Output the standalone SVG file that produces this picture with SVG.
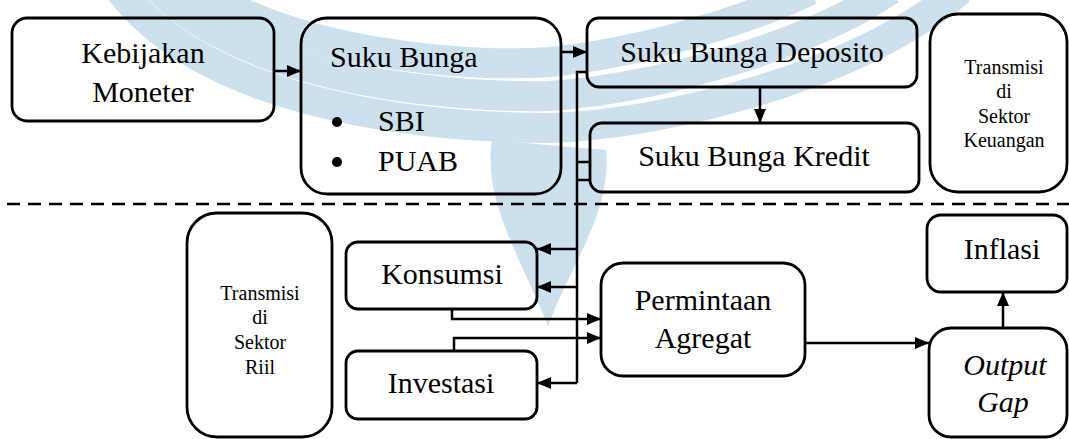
<svg xmlns="http://www.w3.org/2000/svg" width="1069" height="439" viewBox="0 0 1069 439">
<style>
.box{fill:none;stroke:#000;stroke-width:2.8}
.t{font-size:30px;fill:#000}
.s{font-size:20px;fill:#000;text-anchor:middle}
.c{text-anchor:middle}
.i{font-style:italic}
.ln{fill:none;stroke:#000;stroke-width:2.5}
.wm{fill:none;stroke:#cde0ee;stroke-width:30}
</style>
<defs>
<marker id="ah" viewBox="0 0 14 12" refX="14" refY="6" markerWidth="14" markerHeight="12" markerUnits="userSpaceOnUse" orient="auto">
<path d="M0,0 L14,6 L0,12 Z" fill="#000"/>
</marker>
</defs>
<rect width="1069" height="439" fill="#fff"/>
<g id="watermark">
<path class="wm" d="M200,-10 C300,55 470,68 550,62 C650,52 760,15 810,-10"/>
<path class="wm" d="M160,-10 C255,85 465,98 550,96 C660,88 810,45 890,-10"/>
<path class="wm" d="M120,-10 C215,115 455,128 550,128 C670,124 860,75 960,-10"/>
<path d="M492,140 C482,200 522,260 548,326 C572,262 612,212 606,150 Z" fill="#cde0ee"/>
</g>
<g id="separator">
<path d="M7,204 H1069" stroke="#000" stroke-width="2.5" stroke-dasharray="13 8"/>
</g>
<g id="connectors">
<path class="ln" d="M274,71 H301" marker-end="url(#ah)"/>
<path class="ln" d="M561,52 H587" marker-end="url(#ah)"/>
<path class="ln" d="M760,87 V123" marker-end="url(#ah)"/>
<path class="ln" d="M587,72 H577 V383"/>
<path class="ln" d="M577,162 H590 M577,180 H590"/>
<path class="ln" d="M577,249 H537" marker-end="url(#ah)"/>
<path class="ln" d="M577,287 H537" marker-end="url(#ah)"/>
<path class="ln" d="M577,383 H537" marker-end="url(#ah)"/>
<path class="ln" d="M452,309 V319 H601" marker-end="url(#ah)"/>
<path class="ln" d="M454,351 V338 H601" marker-end="url(#ah)"/>
<path class="ln" d="M805,343 H929" marker-end="url(#ah)"/>
<path class="ln" d="M1003,328 V292" marker-end="url(#ah)"/>
</g>
<g font-family="'Liberation Serif', 'DejaVu Serif', serif">
<g id="kebijakan">
<rect class="box" x="12" y="18" width="262" height="103" rx="15"/>
<text class="t c" x="143" y="63">Kebijakan</text>
<text class="t c" x="143" y="102">Moneter</text>
</g>
<g id="sukubunga">
<rect class="box" x="301" y="18" width="260" height="176" rx="26"/>
<text class="t" x="330" y="67">Suku Bunga</text>
<circle cx="337" cy="122" r="5"/>
<circle cx="337" cy="162" r="5"/>
<text class="t" x="378" y="131">SBI</text>
<text class="t" x="378" y="171">PUAB</text>
</g>
<g id="deposito">
<rect class="box" x="587" y="18" width="330" height="69" rx="12"/>
<text class="t c" x="752" y="62">Suku Bunga Deposito</text>
</g>
<g id="kredit">
<rect class="box" x="590" y="123" width="329" height="69" rx="12"/>
<text class="t c" x="754" y="166">Suku Bunga Kredit</text>
</g>
<g id="keuangan">
<rect class="box" x="930" y="14" width="137" height="178" rx="28"/>
<text class="s" x="1004" y="74">Transmisi</text>
<text class="s" x="1004" y="98">di</text>
<text class="s" x="1004" y="123">Sektor</text>
<text class="s" x="1004" y="147">Keuangan</text>
</g>
<g id="riil">
<rect class="box" x="187" y="213" width="145" height="224" rx="30"/>
<text class="s" x="260" y="300">Transmisi</text>
<text class="s" x="260" y="324">di</text>
<text class="s" x="260" y="349">Sektor</text>
<text class="s" x="260" y="374">Riil</text>
</g>
<g id="konsumsi">
<rect class="box" x="346" y="242" width="191" height="67" rx="12"/>
<text class="t c" x="442" y="284">Konsumsi</text>
</g>
<g id="investasi">
<rect class="box" x="346" y="351" width="191" height="68" rx="12"/>
<text class="t c" x="441" y="393">Investasi</text>
</g>
<g id="permintaan">
<rect class="box" x="601" y="263" width="204" height="113" rx="22"/>
<text class="t c" x="703" y="310">Permintaan</text>
<text class="t c" x="703" y="348">Agregat</text>
</g>
<g id="inflasi">
<rect class="box" x="927" y="215" width="140" height="77" rx="14"/>
<text class="t c" x="1002" y="259">Inflasi</text>
</g>
<g id="outputgap">
<rect class="box" x="929" y="328" width="138" height="109" rx="22"/>
<text class="t c i" x="1005" y="375">Output</text>
<text class="t c i" x="1003" y="412">Gap</text>
</g>
</g>
</svg>
